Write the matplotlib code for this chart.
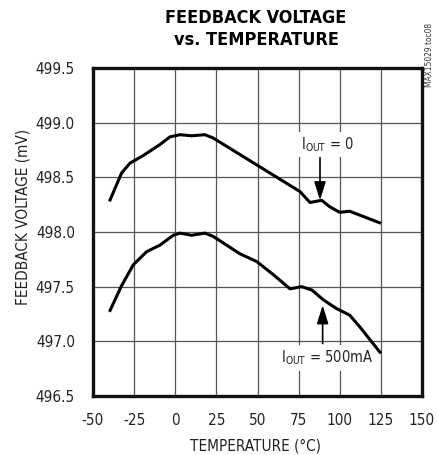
import matplotlib
matplotlib.use("Agg")
import matplotlib.pyplot as plt

plt.rcParams['font.family'] = ['DejaVu Sans']
plt.rcParams['font.stretch'] = 'condensed'

temp_0 = [-40, -32.6, -27.5, -19.4, -9.3, -3.2, 2.9, 10, 18, 23, 75.8, 81.9, 89, 94, 100, 106, 125]
volt_0 = [498.28, 498.54, 498.63, 498.70, 498.80, 498.87, 498.89, 498.88, 498.89, 498.86, 498.37, 498.27, 498.29, 498.23, 498.18, 498.19, 498.08]

temp_500 = [-40, -32.6, -25.5, -17.4, -9.3, -1.2, 2.9, 10, 18, 23, 39.4, 49.5, 59.6, 69.8, 76.8, 83, 90, 98, 106, 112.3, 125]
volt_500 = [497.27, 497.51, 497.70, 497.82, 497.88, 497.97, 497.99, 497.97, 497.99, 497.96, 497.80, 497.73, 497.61, 497.48, 497.50, 497.47, 497.38, 497.30, 497.24, 497.13, 496.89]

xticks = [-50, -25, 0, 25, 50, 75, 100, 125, 150]
yticks = [496.5, 497.0, 497.5, 498.0, 498.5, 499.0, 499.5]

fig = plt.figure(figsize=(4.38, 4.55), dpi=100)
ax = fig.add_axes([93/438, 1-396/455, (422-93)/438, (396-68)/455])

ax.plot(temp_0, volt_0, color='black', lw=2.2, solid_capstyle='butt', zorder=3)
ax.plot(temp_500, volt_500, color='black', lw=2.2, solid_capstyle='butt', zorder=3)

ax.set_xlim(-50, 150)
ax.set_ylim(496.5, 499.5)
ax.set_xticks(xticks)
ax.set_yticks(yticks)
ax.set_xticklabels([str(t) for t in xticks])
ax.set_yticklabels([f"{t:.1f}" for t in yticks])
ax.grid(True, color='#555555', lw=0.9)
ax.tick_params(axis='y', length=0, labelsize=11, pad=13, labelcolor='#222222')
ax.tick_params(axis='x', length=0, labelsize=11, pad=12, labelcolor='#222222')
for s in ax.spines.values():
    s.set_linewidth(2.4)
    s.set_color('#111111')

ax.set_xlabel("TEMPERATURE (°C)", fontsize=11, color='#222222')
ax.set_ylabel("FEEDBACK VOLTAGE (mV)", fontsize=11, color='#222222')
ax.xaxis.label.set_va('center')
ax.yaxis.label.set_va('center')
ax.xaxis.set_label_coords((256-93)/329, (396-446)/328)
ax.yaxis.set_label_coords((23-93)/329, (396-217)/328)

arrow = dict(arrowstyle='-|>,head_length=0.8,head_width=0.25', color='black', lw=1.2,
             mutation_scale=14, shrinkA=0, shrinkB=0)
# annotations
ax.annotate("", xy=(88, 498.29), xytext=(88, 498.68), arrowprops=arrow, zorder=4)
ax.text(92.3, 498.80, r"I$_{\mathregular{OUT}}$ = 0", fontsize=10.5, ha='center', va='center',
        color='#222222', bbox=dict(facecolor='white', edgecolor='none', pad=2.5), zorder=2)
ax.annotate("", xy=(89.6, 497.33), xytext=(89.6, 496.98), arrowprops=arrow, zorder=4)
ax.text(92.3, 496.85, r"I$_{\mathregular{OUT}}$ = 500mA", fontsize=10.5, ha='center', va='center',
        color='#222222', bbox=dict(facecolor='white', edgecolor='none', pad=2.5), zorder=2)

fig.text(256/438, 1-18/455, "FEEDBACK VOLTAGE", fontsize=13, fontweight='heavy', ha='center', va='center')
fig.text(256/438, 1-40/455, "vs. TEMPERATURE", fontsize=13, fontweight='heavy', ha='center', va='center')
fig.text(429/438, 1-55/455, "MAX15029 toc08", fontsize=6, rotation=90, ha='center', va='center', color='#333333')

fig.savefig("out.png", dpi=100)
